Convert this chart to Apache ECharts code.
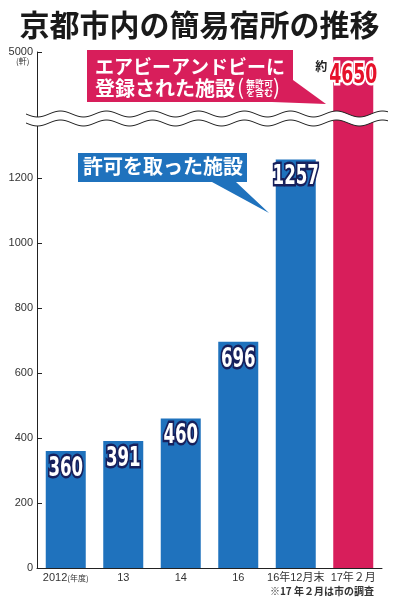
<!DOCTYPE html>
<html>
<head>
<meta charset="utf-8">
<style>
  html, body { margin: 0; padding: 0; background: #fff; }
  #chart { width: 399px; height: 600px; }
</style>
<script src="https://cdn.jsdelivr.net/npm/echarts@6/dist/echarts.min.js"></script>
</head>
<body>
<div id="chart"></div>
<script>
// data
const categories = ['2012(年度)', '13', '14', '16', '16年12月末', '17年２月'];
const permitted = [360, 391, 460, 696, 1257, null];   // 許可を取った施設
const airbnb = [null, null, null, null, null, 4650];  // エアビーアンドビーに登録された施設
const lowerTicks = [0, 200, 400, 600, 800, 1000, 1200];
const upperTicks = [5000];

const BLUE = '#1f72bd';
const RED = '#d81e5b';
const SANS = '"Liberation Sans", sans-serif';
const JP = '"Noto Sans CJK JP", sans-serif';

const chart = echarts.init(document.getElementById('chart'));

// wavy break band
function wave(y0) {
  const pts = [];
  for (let x = 26; x <= 388; x += 2) {
    pts.push([x, y0 + 3 * Math.sin((x - 26) / 46 * Math.PI * 2)]);
  }
  return pts;
}
const waveTop = wave(114);
const waveBottom = wave(123);

// condensed bold numbers drawn on top of the bars
function numberText(x, y, text, fill, stroke, size) {
  return {
    type: 'text',
    x: x,
    y: y,
    scaleX: 0.64,
    style: {
      text: text,
      align: 'center',
      verticalAlign: 'top',
      font: 'bold ' + size + 'px "DejaVu Sans"',
      fill: fill,
      stroke: stroke,
      lineWidth: 5,
      strokeFirst: true
    }
  };
}

function renderPermittedLabel(params, api) {
  const v = api.value(1);
  if (v == null || isNaN(v)) return null;
  const p = api.coord([api.value(0), v]);
  return numberText(p[0], p[1] + 5, String(v), '#fff', '#17205c', 26);
}

function renderAirbnbLabel(params, api) {
  const v = api.value(1);
  if (v == null || isNaN(v)) return null;
  const p = api.coord([api.value(0), v]);
  return {
    type: 'group',
    children: [
      {
        type: 'text',
        x: p[0] - 32,
        y: p[1] + 4,
        style: { text: '約', align: 'center', verticalAlign: 'top', font: 'bold 12px "Noto Sans CJK JP"', fill: '#222' }
      },
      numberText(p[0], p[1] + 6, String(v), '#e6122a', '#fff', 27)
    ]
  };
}

const axisText = {
  color: '#333',
  fontSize: 11,
  fontFamily: SANS
};

const option = {
  animation: false,
  backgroundColor: '#fff',
  title: {
    text: '京都市内の簡易宿所の推移',
    left: 'center',
    top: 5,
    textStyle: { fontSize: 30, fontWeight: 'bold', fontFamily: JP, color: '#1a1a1a' }
  },
  grid: [
    { left: 37, right: 17, top: 113, bottom: 32 },
    { left: 37, right: 17, top: 52, height: 70 }
  ],
  xAxis: [
    {
      gridIndex: 0,
      type: 'category',
      data: categories,
      axisLine: { lineStyle: { color: '#222', width: 1 } },
      axisTick: { inside: true, length: 4, lineStyle: { color: '#222' } },
      axisLabel: Object.assign({}, axisText, {
        margin: 4,
        interval: 0,
        fontFamily: '"Liberation Sans", "Noto Sans CJK JP", sans-serif',
        formatter: v => v.replace('(年度)', '{s|(年度)}'),
        rich: { s: { fontSize: 8, fontFamily: JP, color: '#333' } }
      })
    },
    { gridIndex: 1, type: 'category', data: categories, show: false }
  ],
  yAxis: [
    {
      gridIndex: 0,
      type: 'value',
      min: 0,
      max: 1400,
      interval: 200,
      axisLine: { show: true, lineStyle: { color: '#222', width: 1 } },
      axisTick: { show: true, inside: true, length: 5, customValues: lowerTicks, lineStyle: { color: '#222' } },
      axisLabel: Object.assign({}, axisText, { margin: 4, customValues: lowerTicks, formatter: v => String(v) }),
      splitLine: { show: false }
    },
    {
      gridIndex: 1,
      type: 'value',
      min: 0,
      max: 5000,
      axisLine: { show: true, lineStyle: { color: '#222', width: 1 } },
      axisTick: { show: true, inside: true, length: 5, customValues: upperTicks, lineStyle: { color: '#222' } },
      axisLabel: Object.assign({}, axisText, { margin: 4, customValues: upperTicks, formatter: v => String(v) }),
      splitLine: { show: false }
    }
  ],
  series: [
    {
      name: '許可を取った施設',
      type: 'bar',
      xAxisIndex: 0,
      yAxisIndex: 0,
      data: permitted,
      barWidth: 40,
      barGap: '-100%',
      itemStyle: { color: BLUE }
    },
    {
      name: 'エアビーアンドビー',
      type: 'bar',
      xAxisIndex: 0,
      yAxisIndex: 0,
      data: airbnb,
      barWidth: 40,
      barGap: '-100%',
      clip: true,
      itemStyle: { color: RED }
    },
    {
      name: 'エアビーアンドビー',
      type: 'bar',
      xAxisIndex: 1,
      yAxisIndex: 1,
      data: airbnb,
      barWidth: 40,
      itemStyle: { color: RED }
    },
    {
      name: 'permitted-labels',
      type: 'custom',
      xAxisIndex: 0,
      yAxisIndex: 0,
      z: 5,
      silent: true,
      data: permitted.map((v, i) => [i, v]),
      renderItem: renderPermittedLabel
    },
    {
      name: 'airbnb-label',
      type: 'custom',
      xAxisIndex: 1,
      yAxisIndex: 1,
      z: 5,
      silent: true,
      data: airbnb.map((v, i) => [i, v]),
      renderItem: renderAirbnbLabel
    }
  ],
  graphic: [
    // break band
    {
      type: 'polygon', z: 50, silent: true,
      shape: { points: waveTop.concat(waveBottom.slice().reverse()) },
      style: { fill: '#fff' }
    },
    {
      type: 'polyline', z: 51, silent: true,
      shape: { points: waveTop },
      style: { stroke: '#222', lineWidth: 1, fill: null }
    },
    {
      type: 'polyline', z: 51, silent: true,
      shape: { points: waveBottom },
      style: { stroke: '#222', lineWidth: 1, fill: null }
    },
    // unit
    {
      type: 'text', z: 60, left: 16, top: 57,
      style: { text: '(軒)', fontSize: 8, fontFamily: JP, fill: '#333' }
    },
    // magenta callout
    {
      type: 'polygon', z: 60,
      shape: { points: [[87, 50], [293, 50], [293, 80], [326, 104], [272, 102], [87, 102]] },
      style: { fill: RED }
    },
    {
      type: 'text', z: 61, left: 95, top: 57,
      style: { text: 'エアビーアンドビーに', fontSize: 19, fontWeight: 'bold', fontFamily: JP, fill: '#fff' }
    },
    {
      type: 'text', z: 61, left: 95, top: 78,
      style: { text: '登録された施設', fontSize: 20, fontWeight: 'bold', fontFamily: JP, fill: '#fff' }
    },
    {
      type: 'text', z: 61, left: 237, top: 77,
      style: { text: '(', fontSize: 21, fontFamily: JP, fill: '#fff' }
    },
    {
      type: 'text', z: 61, left: 246, top: 79,
      style: { text: '無許可\nを含む', fontSize: 9, lineHeight: 9, fontWeight: 'bold', fontFamily: JP, fill: '#fff' }
    },
    {
      type: 'text', z: 61, left: 273, top: 77,
      style: { text: ')', fontSize: 21, fontFamily: JP, fill: '#fff' }
    },
    // blue callout
    {
      type: 'polygon', z: 60,
      shape: { points: [[78, 153], [247, 153], [247, 182], [236, 182], [269, 213], [212, 182], [78, 182]] },
      style: { fill: BLUE }
    },
    {
      type: 'text', z: 61, left: 83, top: 156,
      style: { text: '許可を取った施設', fontSize: 20, fontWeight: 'bold', fontFamily: JP, fill: '#fff' }
    },
    // footnote
    {
      type: 'text', z: 60, right: 25, top: 586,
      style: { text: '※17 年２月は市の調査', fontSize: 10, fontWeight: 'bold', fontFamily: JP, fill: '#333' }
    }
  ]
};

chart.setOption(option);
</script>
</body>
</html>
